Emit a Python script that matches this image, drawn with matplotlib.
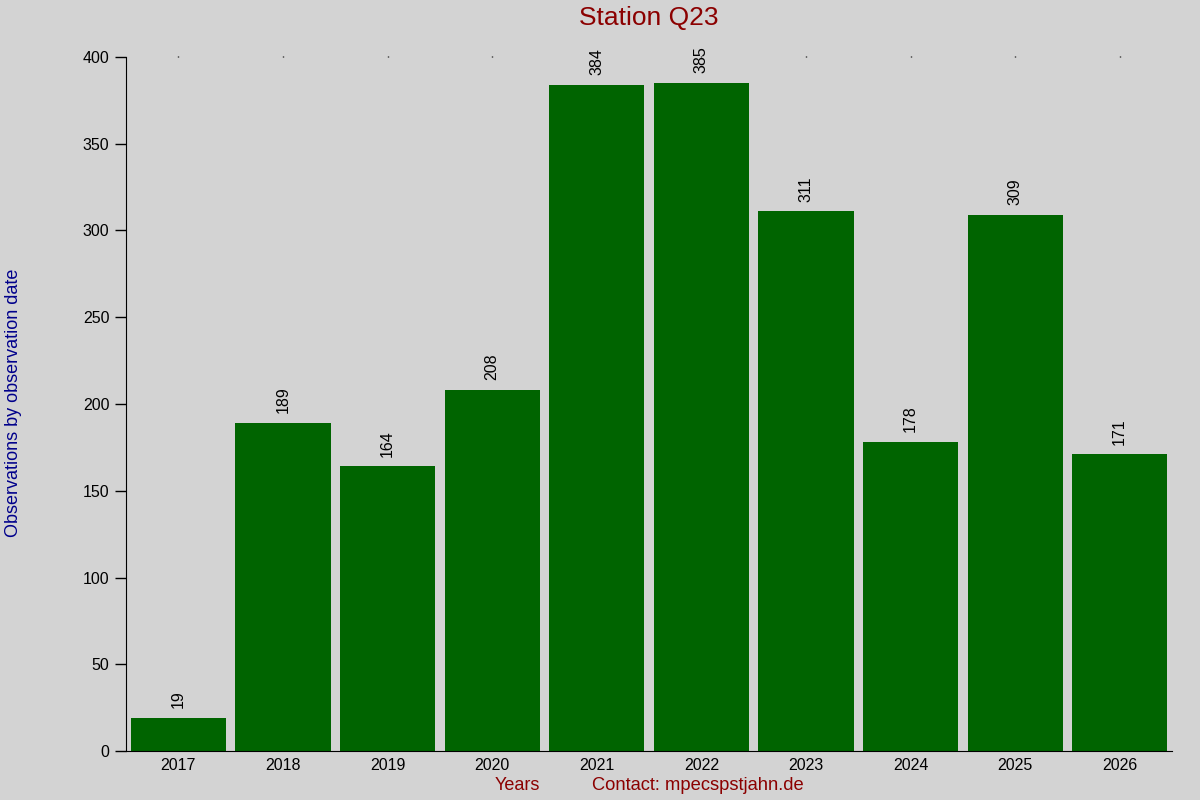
import matplotlib
matplotlib.use("Agg")
import matplotlib.pyplot as plt

plt.rcParams['font.family'] = ['Liberation Sans', 'DejaVu Sans']

years = [2017, 2018, 2019, 2020, 2021, 2022, 2023, 2024, 2025, 2026]
counts = [19, 189, 164, 208, 384, 385, 311, 178, 309, 171]

bg = '#d3d3d3'
fig = plt.figure(figsize=(12, 8), dpi=100, facecolor=bg)
ax = fig.add_axes([0.105, 0.06125, 0.8717, 0.8675], facecolor=bg)

ax.bar(years, counts, width=0.91, color='#006400')
for x, c in zip(years, counts):
    ax.annotate(str(c), (x, c), xytext=(0, 7), textcoords='offset points',
                rotation=90, ha='center', va='bottom', fontsize=11.5)

ax.set_xlim(2016.5, 2026.5)
ax.set_ylim(0, 400)
ax.set_xticks(years)
ax.set_yticks(range(0, 401, 50))
ax.tick_params(axis='x', bottom=False, top=True, labelbottom=True, labeltop=False,
               length=1, width=1, labelsize=11.5, pad=4)
ax.tick_params(axis='y', length=8, width=1, labelsize=11.5, pad=4)

for s in ['top', 'right']:
    ax.spines[s].set_visible(False)

fig.text(0.541, 0.977, 'Station Q23', ha='center', va='center', fontsize=19, color='#8b0000')
fig.text(0.0115, 0.497, 'Observations by observation date', rotation=90,
         ha='center', va='center', fontsize=13, color='#00008b')
fig.text(0.431, 0.0175, 'Years', ha='center', va='center', fontsize=13, color='#8b0000')
fig.text(0.5815, 0.0175, 'Contact: mpecspstjahn.de', ha='center', va='center',
         fontsize=13.2, color='#8b0000')

fig.savefig('out.png', dpi=100, facecolor=bg)
